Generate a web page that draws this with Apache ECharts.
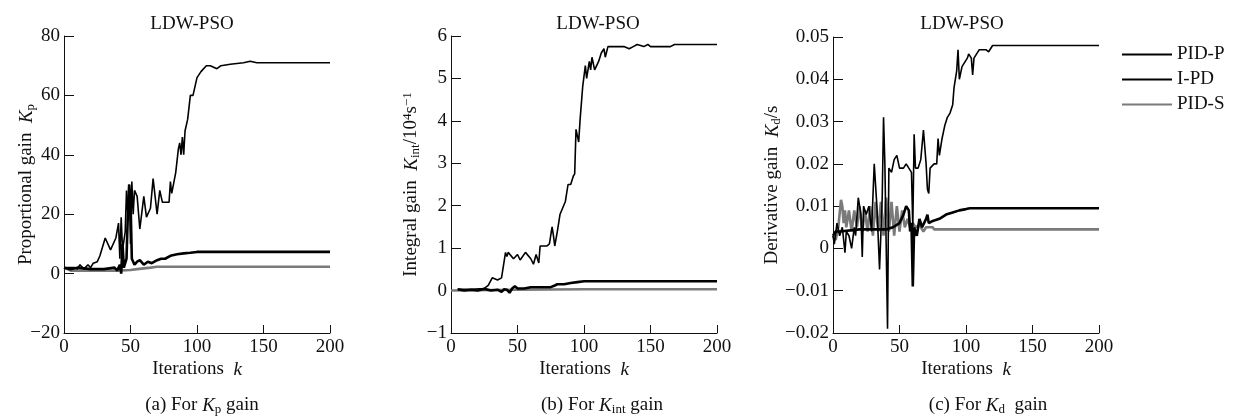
<!DOCTYPE html>
<html><head><meta charset="utf-8">
<script src="https://cdn.jsdelivr.net/npm/echarts@6/dist/echarts.min.js"></script>
<style>html,body{margin:0;padding:0;background:#fff}#c{width:1239px;height:419px}</style>
</head><body><div id="c"></div>
<script>
// ---- data: [iteration k, value] ----
const seriesNames = ['PID-P', 'I-PD', 'PID-S'];
const xTicks = [0, 50, 100, 150, 200];

// (a) Kp
const a_pidP = [[0,2],[8,2],[10,1.5],[12,3],[15,1.5],[18,3],[20,2],[22,3.5],[25,4],[27,6],[31,12],[35,8],[39,12],[41,17],[42,5],[43,19],[44,8],[46,14],[47,28],[48,20],[49,30],[50,10],[51,31],[52,20],[53,28],[55,26],[57,15],[60,26],[62,19],[65,22],[67,32],[70,20],[72,28],[74,24],[79,24],[80,31],[81,27],[84,34],[86,42],[87,44],[88,40],[89,46],[90,40],[91,48],[93,52],[95,60],[97,60],[100,66],[103,68],[107,70],[110,70],[115,69],[118,70],[125,70.5],[135,71],[140,71.5],[145,71],[150,71],[200,71]];
const a_ipd = [[0,2],[5,1.5],[10,2],[20,1.5],[30,1.5],[38,2],[40,1],[42,3],[43,0],[44,10],[45,2],[47,5],[48,20],[49,30],[50,25],[51,5],[53,3],[55,4],[57,4.5],[60,3],[63,4],[66,3.5],[70,4.5],[73,5],[76,5],[80,6],[85,6.5],[90,6.8],[95,7],[100,7.3],[200,7.3]];
const a_pidS = [[0,2],[5,1],[20,1],[40,1],[50,1.2],[55,1.5],[65,2],[70,2.3],[200,2.3]];

// (b) Kint
const b_pidP = [[5,0.03],[15,0.03],[25,0.05],[28,0.12],[31,0.3],[35,0.25],[38,0.3],[41,0.9],[42,0.8],[43,0.9],[47,0.75],[50,0.85],[52,0.72],[56,0.9],[60,0.75],[62,0.62],[64,0.85],[66,0.65],[67,1.05],[72,1.05],[74,1.1],[76,1.5],[77,1.3],[78,1.05],[80,1.4],[82,1.8],[86,2.1],[88,2.5],[90,2.5],[92,2.7],[93,2.75],[94,3.8],[96,3.5],[97,4.0],[99,4.8],[101,5.3],[102,5.0],[104,5.4],[105,5.2],[106,5.5],[108,5.2],[111,5.4],[113,5.6],[115,5.7],[116,5.5],[118,5.75],[130,5.75],[134,5.7],[137,5.75],[140,5.8],[145,5.75],[148,5.8],[150,5.75],[165,5.75],[168,5.8],[200,5.8]];
const b_ipd = [[5,0.03],[10,0],[15,0.02],[20,0],[25,0.04],[30,0],[35,0.02],[38,-0.03],[40,0.03],[42,0.02],[44,-0.05],[46,0.05],[48,0.1],[50,0.05],[55,0.05],[60,0.08],[70,0.08],[75,0.08],[78,0.12],[80,0.15],[85,0.15],[90,0.18],[95,0.2],[100,0.22],[200,0.22]];
const b_pidS = [[0,0.0],[50,0.02],[100,0.03],[200,0.03]];

// (c) Kd
const c_pidP = [[0,0.003],[1,0.001],[3,0.006],[5,0.003],[7,0.005],[9,-0.001],[10,0.004],[12,0.003],[14,0.0],[16,0.005],[17,0.003],[19,0.012],[21,0.008],[22,-0.002],[23,0.01],[25,0.008],[27,0.01],[29,0.004],[31,0.02],[33,0.01],[35,-0.005],[37,0.012],[38,0.031],[39,0.02],[41,-0.019],[42,0.019],[44,0.018],[46,0.021],[48,0.022],[50,0.019],[53,0.019],[55,0.02],[57,0.019],[59,0.018],[60,0.005],[61,0.027],[62,0.019],[64,0.019],[66,0.021],[68,0.028],[70,0.02],[71,0.014],[72,0.013],[73,0.019],[76,0.02],[78,0.02],[79,0.026],[80,0.022],[82,0.026],[84,0.029],[86,0.031],[88,0.032],[90,0.034],[91,0.038],[93,0.042],[94,0.047],[95,0.04],[97,0.043],[99,0.044],[101,0.045],[102,0.046],[104,0.045],[105,0.041],[106,0.045],[108,0.046],[110,0.047],[115,0.047],[117,0.0465],[120,0.048],[200,0.048]];
const c_ipd = [[0,0.003],[2,0.004],[5,0.004],[20,0.0045],[40,0.0045],[45,0.005],[50,0.006],[53,0.008],[55,0.01],[57,0.009],[58,0.004],[59,0.006],[60,-0.009],[61,0.005],[63,0.003],[65,0.007],[67,0.005],[70,0.007],[71,0.008],[72,0.006],[75,0.0065],[80,0.007],[85,0.008],[90,0.0085],[95,0.009],[100,0.0093],[103,0.0095],[200,0.0095]];
const c_pidS = [[0,0.003],[2,0.002],[4,0.005],[6,0.0115],[7,0.01],[8,0.006],[9,0.009],[10,0.005],[12,0.009],[14,0.004],[16,0.009],[18,0.005],[20,0.01],[22,0.004],[24,0.009],[26,0.004],[28,0.01],[30,0.003],[32,0.011],[34,0.004],[36,0.011],[38,0.003],[40,0.012],[42,0.004],[44,0.011],[46,0.003],[48,0.01],[50,0.004],[52,0.009],[54,0.005],[56,0.007],[58,0.005],[60,0.006],[62,0.005],[65,0.0055],[68,0.004],[70,0.005],[75,0.005],[76,0.0045],[200,0.0045]];

const yA = {min:-20, max:80, interval:20};
const yB = {min:-1, max:6, interval:1};
const yC = {min:-0.02, max:0.05, interval:0.01};

// ---- styling ----
const FONT = 'Liberation Serif';
const FS = 19;
const rich = {
  i: {fontFamily: FONT, fontStyle: 'italic', fontSize: FS, color:'#111'},
  sub: {fontFamily: FONT, fontSize: 13, color:'#111', verticalAlign:'bottom', padding:[8,0,0,0]},
  sup: {fontFamily: FONT, fontSize: 13, color:'#111', verticalAlign:'top', padding:[0,0,6,0]}
};
const styles = [
  {color:'#000', width:1.6},
  {color:'#000', width:2.6},
  {color:'#7a7a7a', width:2.6}
];
const grids = [
  {left:64, top:36, width:266, height:297},
  {left:451, top:36, width:266, height:297},
  {left:833, top:37, width:266, height:296}
];
const minus = v => String(v).replace('-', '\u2212');
function xAxis(i){
  return {type:'value', gridIndex:i, min:0, max:200, interval:50,
    name:'Iterations  {i|k}', nameLocation:'middle', nameGap:27, nameMoveOverlap:false,
    nameTextStyle:{fontFamily:FONT, fontSize:FS, color:'#111', rich},
    axisLine:{onZero:false, lineStyle:{color:'#111', width:1}},
    axisTick:{inside:true, length:8, lineStyle:{color:'#111'}},
    axisLabel:{fontFamily:FONT, fontSize:FS, color:'#111', margin:5, formatter:minus},
    splitLine:{show:false}};
}
function yAxis(i, r, name, gap){
  return {type:'value', gridIndex:i, min:r.min, max:r.max, interval:r.interval,
    name, nameLocation:'middle', nameGap:gap, nameMoveOverlap:false,
    nameTextStyle:{fontFamily:FONT, fontSize:FS, color:'#111', rich},
    axisLine:{show:true, onZero:false, lineStyle:{color:'#111', width:1}},
    axisTick:{show:true, inside:true, length:10, lineStyle:{color:'#111'}},
    axisLabel:{fontFamily:FONT, fontSize:FS, color:'#111', margin:4, formatter:minus},
    splitLine:{show:false}};
}
const dataSets = [[a_pidP,a_ipd,a_pidS],[b_pidP,b_ipd,b_pidS],[c_pidP,c_ipd,c_pidS]];
const series = [];
dataSets.forEach((ds, gi) => ds.forEach((d, si) => {
  series.push({type:'line', name:seriesNames[si], xAxisIndex:gi, yAxisIndex:gi, data:d,
    symbol:'none', lineStyle:styles[si], itemStyle:{color:styles[si].color}, animation:false, z: 3 - si});
}));
const titleCenters = [187, 593, 957];
const capCenters = [197, 597, 983];
const captions = ['(a) For {i|K}{sub|p} gain', '(b) For {i|K}{sub|int} gain', '(c) For {i|K}{sub|d}  gain'];
const chart = echarts.init(document.getElementById('c'), null, {renderer:'canvas'});
chart.setOption({
  animation:false,
  backgroundColor:'#fff',
  title: titleCenters.map(x => ({text:'LDW-PSO', left:x, top:10, textAlign:'center',
      textStyle:{fontFamily:FONT, fontSize:FS, fontWeight:'normal', color:'#111'}}))
    .concat(captions.map((t,i) => ({text:t, left:capCenters[i], top:390, textAlign:'center',
      textStyle:{fontFamily:FONT, fontSize:FS, fontWeight:'normal', color:'#111', rich}}))),
  legend:{data:seriesNames, orient:'vertical', left:1116, top:40, itemWidth:50, itemHeight:14, itemGap:6,
    itemStyle:{opacity:0},
    textStyle:{fontFamily:FONT, fontSize:FS, color:'#111'}},
  grid: grids,
  xAxis: [xAxis(0), xAxis(1), xAxis(2)],
  yAxis: [
    yAxis(0, yA, 'Proportional gain  {i|K}{sub|p}', 27),
    yAxis(1, yB, 'Integral gain  {i|K}{sub|int}/10{sup|4}s{sup|\u22121}', 29),
    yAxis(2, yC, 'Derivative gain  {i|K}{sub|d}/s', 50)
  ],
  series
});
</script></body></html>
